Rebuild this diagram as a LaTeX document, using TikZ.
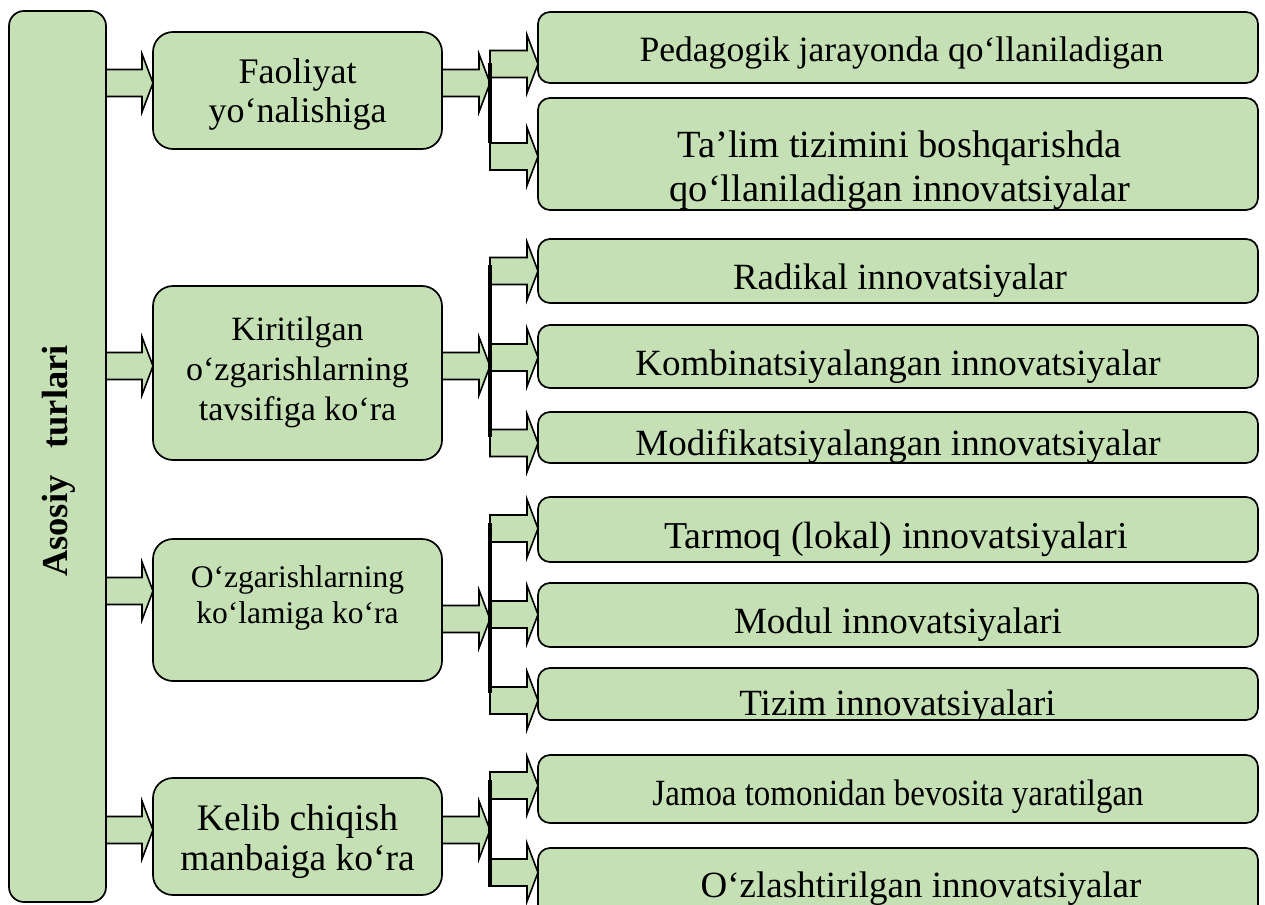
\documentclass[tikz,border=0pt]{standalone}
\usepackage{fontspec}
\setmainfont{Liberation Serif}
\newfontfamily\condfont[FakeStretch=0.89]{Liberation Serif}
\usetikzlibrary{calc}
\definecolor{boxgreen}{RGB}{197,224,180}
\tikzset{
  boxbase/.style={draw=black, line width=1.7pt, fill=boxgreen, inner sep=0pt, outer sep=0pt},
  mainbox/.style={boxbase, rounded corners=15pt, minimum width=97pt},
  catbox/.style={boxbase, rounded corners=20pt, minimum width=289pt},
  rbox/.style={boxbase, rounded corners=12pt, minimum width=720pt},
  arrowfill/.style={draw=black, line width=1.6pt, fill=boxgreen, line join=miter},
  barline/.style={line width=4pt, black},
  rtext/.style={anchor=base, inner sep=0pt, font=\fontsize{37}{40}\selectfont},
  ctext/.style={anchor=base, inner sep=0pt},
}
\newcommand\blk[2]{%
  \draw[arrowfill] let \p1=#1, \p2=#2 in
    (\x1,{\y1+13.5pt}) -- ({\x2-11pt},{\y1+13.5pt}) -- ({\x2-11pt},{\y1+29pt})
    -- (\x2,\y1) -- ({\x2-11pt},{\y1-29pt}) -- ({\x2-11pt},{\y1-13.5pt})
    -- (\x1,{\y1-13.5pt}) -- cycle;}
\newcommand\cliptext[5][]{%
  \begin{scope}
    \clip[rounded corners=11pt] (#2.south west) rectangle (#2.north east);
    \node[rtext,#1] (#3) at #4 {#5};
  \end{scope}}
\begin{document}
\begin{tikzpicture}[x=1pt, y=-1pt]
\clip (0,0) rectangle (1265,904);
\fill[white] (0,0) rectangle (1265,904);

% main box
\node[mainbox, minimum height=891pt] (main) at (57.5,456.5) {};
\node[rotate=90, anchor=base, inner sep=0pt, font=\bfseries\fontsize{36.5}{40}\selectfont] (maint) at (67,461) {Asosiy\hspace{27pt}turlari};

% category boxes
\node[catbox, minimum height=117pt] (c1) at (297.5,90.5) {};
\node[catbox, minimum height=174pt] (c2) at (297.5,373) {};
\node[catbox, minimum height=142pt] (c3) at (297.5,610) {};
\node[catbox, minimum height=117pt] (c4) at (297.5,836.5) {};

\node[ctext, font=\fontsize{36}{40}\selectfont] (c1a) at (297.5,84) {Faoliyat};
\node[ctext, font=\fontsize{36}{40}\selectfont] (c1b) at (297.5,123) {yo‘nalishiga};
\node[ctext, font=\fontsize{34}{40}\selectfont] (c2a) at (297.5,340) {Kiritilgan};
\node[ctext, font=\fontsize{34}{40}\selectfont] (c2b) at (297.5,380) {o‘zgarishlarning};
\node[ctext, font=\fontsize{34}{40}\selectfont] (c2c) at (297.5,420) {tavsifiga ko‘ra};
\node[ctext, font=\fontsize{31.5}{37}\selectfont] (c3a) at (297.5,587) {O‘zgarishlarning};
\node[ctext, font=\fontsize{31.5}{37}\selectfont] (c3b) at (297.5,623) {ko‘lamiga ko‘ra};
\node[ctext, font=\fontsize{37.5}{40}\selectfont] (c4a) at (297.5,830) {Kelib chiqish};
\node[ctext, font=\fontsize{37.5}{40}\selectfont] (c4b) at (297.5,870) {manbaiga ko‘ra};

% right boxes
\node[rbox, minimum height=71pt] (r1) at (898,47.5) {};
\node[rbox, minimum height=112pt] (r2) at (898,154) {};
\node[rbox, minimum height=64pt] (r3) at (898,271) {};
\node[rbox, minimum height=63pt] (r4) at (898,356.5) {};
\node[rbox, minimum height=51pt] (r5) at (898,437.5) {};
\node[rbox, minimum height=65pt] (r6) at (898,529.5) {};
\node[rbox, minimum height=64pt] (r7) at (898,615) {};
\node[rbox, minimum height=52pt] (r8) at (898,694) {};
\node[rbox, minimum height=68pt] (r9) at (898,789) {};
\node[rbox, minimum height=77pt] (r10) at (898,886.5) {};

\cliptext[font=\fontsize{35.6}{40}\selectfont]{r1}{r1t}{(901.5,62)}{Pedagogik jarayonda qo‘llaniladigan}
\cliptext[font=\fontsize{38.5}{40}\selectfont]{r2}{r2ta}{(899.5,158)}{Ta’lim tizimini boshqarishda}
\cliptext[font=\fontsize{38.5}{40}\selectfont]{r2}{r2tb}{(900,201)}{qo‘llaniladigan innovatsiyalar}
\cliptext{r3}{r3t}{(900,289)}{Radikal innovatsiyalar}
\cliptext{r4}{r4t}{(898,375)}{Kombinatsiyalangan innovatsiyalar}
\cliptext{r5}{r5t}{(898,455)}{Modifikatsiyalangan innovatsiyalar}
\cliptext[font=\fontsize{38}{40}\selectfont]{r6}{r6t}{(896,548)}{Tarmoq (lokal) innovatsiyalari}
\cliptext{r7}{r7t}{(898,633)}{Modul innovatsiyalari}
\cliptext{r8}{r8t}{(897.5,715)}{Tizim innovatsiyalari}
\cliptext[font=\condfont\fontsize{37}{40}\selectfont]{r9}{r9t}{(898,805)}{Jamoa tomonidan bevosita yaratilgan}
\cliptext{r10}{r10t}{(921,897)}{O‘zlashtirilgan innovatsiyalar}

% y levels
\coordinate (L1) at (0,83);
\coordinate (L2) at (0,366);
\coordinate (L3) at (0,591);
\coordinate (L4) at (0,830);
\coordinate (M1) at (0,83);
\coordinate (M2) at (0,366);
\coordinate (M3) at (0,619);
\coordinate (M4) at (0,830);

% bars
\coordinate (b1t) at (490,63);  \coordinate (b1b) at (490,143);
\coordinate (b2t) at (490,265); \coordinate (b2b) at (490,437);
\coordinate (b3t) at (490,523); \coordinate (b3b) at (490,693);
\coordinate (b4t) at (490,780); \coordinate (b4b) at (490,887);

% arrows main -> categories
\blk{(main.east |- L1)}{(c1.west |- L1)}
\blk{(main.east |- L2)}{(c2.west |- L2)}
\blk{(main.east |- L3)}{(c3.west |- L3)}
\blk{(main.east |- L4)}{(c4.west |- L4)}

% arrows categories -> bars
\blk{(c1.east |- M1)}{(b1t |- M1)}
\blk{(c2.east |- M2)}{(b2t |- M2)}
\blk{(c3.east |- M3)}{(b3t |- M3)}
\blk{(c4.east |- M4)}{(b4t |- M4)}

% arrows bars -> right boxes
\coordinate (R1) at (0,64);
\coordinate (R2) at (0,156.5);
\coordinate (R3) at (0,271);
\coordinate (R4) at (0,357.5);
\coordinate (R5) at (0,443);
\coordinate (R6) at (0,528.5);
\coordinate (R7) at (0,614.5);
\coordinate (R8) at (0,700.5);
\coordinate (R9) at (0,785.5);
\coordinate (R10) at (0,872.5);
\blk{(b1t |- R1)}{(r1.west |- R1)}
\blk{(b1t |- R2)}{(r2.west |- R2)}
\blk{(b2t |- R3)}{(r3.west |- R3)}
\blk{(b2t |- R4)}{(r4.west |- R4)}
\blk{(b2t |- R5)}{(r5.west |- R5)}
\blk{(b3t |- R6)}{(r6.west |- R6)}
\blk{(b3t |- R7)}{(r7.west |- R7)}
\blk{(b3t |- R8)}{(r8.west |- R8)}
\blk{(b4t |- R9)}{(r9.west |- R9)}
\blk{(b4t |- R10)}{(r10.west |- R10)}

\draw[barline] (b1t) -- (b1b);
\draw[barline] (b2t) -- (b2b);
\draw[barline] (b3t) -- (b3b);
\draw[barline] (b4t) -- (b4b);
\end{tikzpicture}
\end{document}
